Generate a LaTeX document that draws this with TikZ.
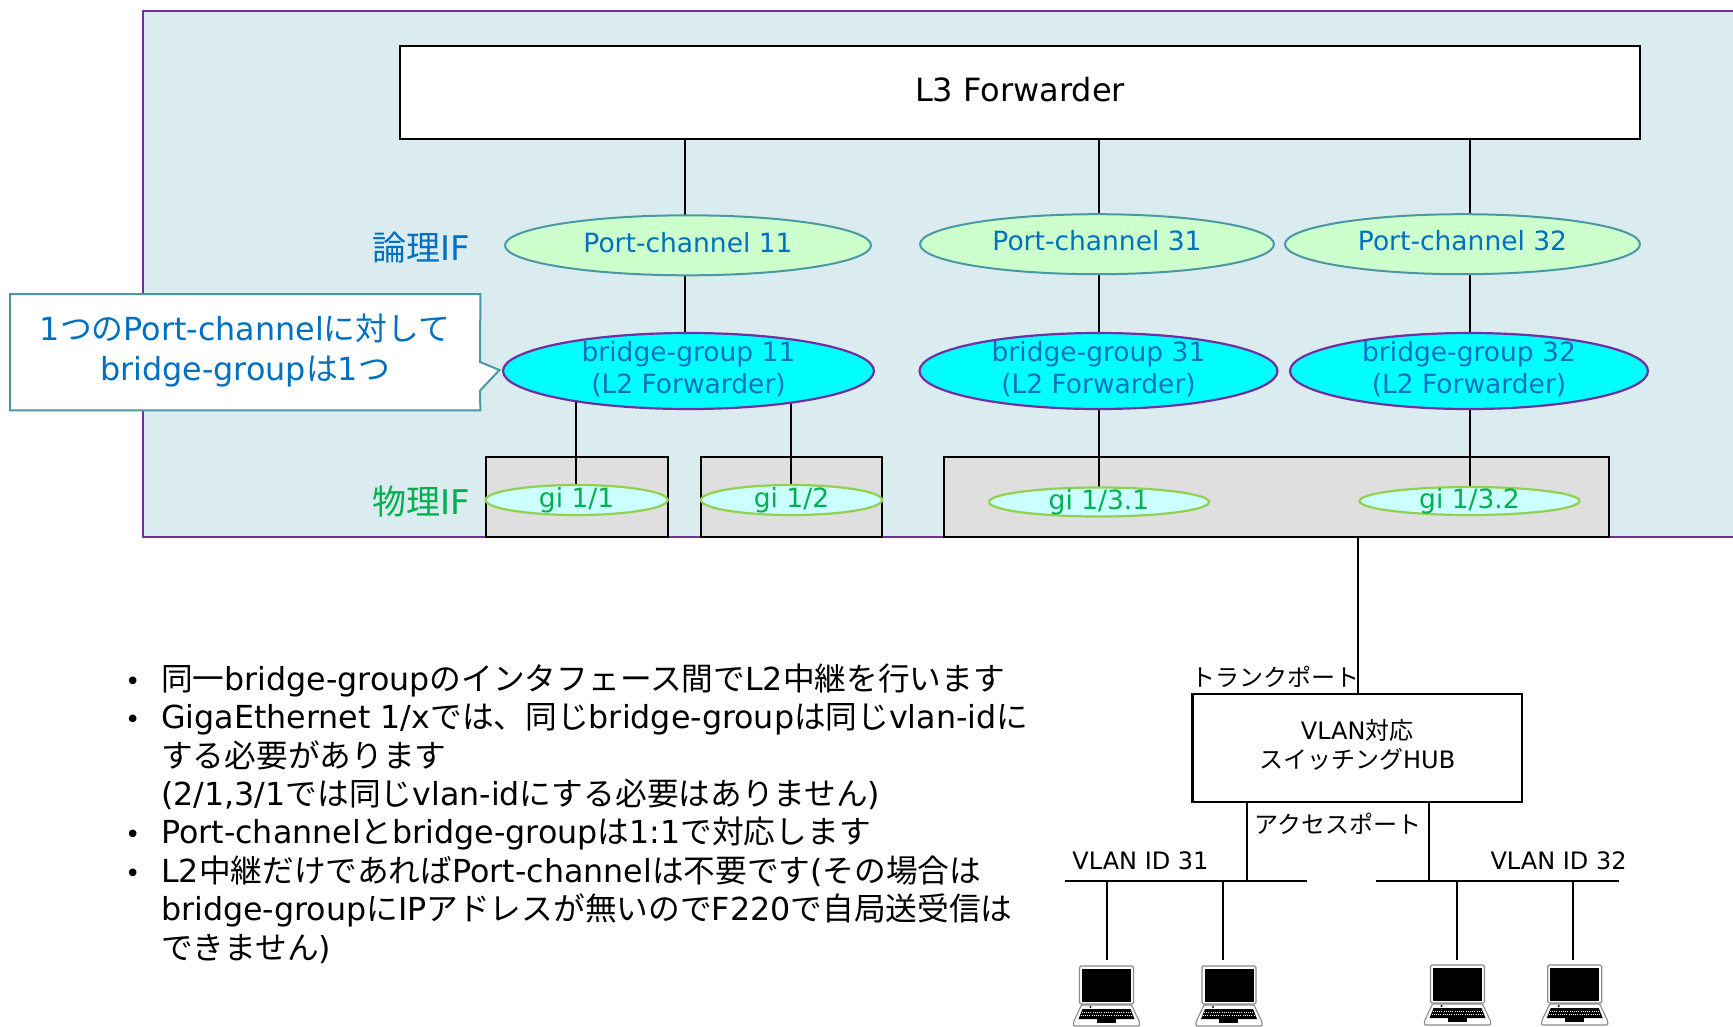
\documentclass[tikz,border=0pt]{standalone}
\usepackage{fontspec}
\setmainfont{DejaVu Sans}
\newfontfamily\jp{Noto Sans CJK JP}
\usetikzlibrary{shapes.geometric,backgrounds}
\pgfdeclarelayer{panelL}\pgfdeclarelayer{boxL}\pgfdeclarelayer{lineL}
\pgfsetlayers{panelL,boxL,lineL,main}
\definecolor{panelfill}{HTML}{DAECEF}
\definecolor{purp}{HTML}{7030A0}
\definecolor{teal1}{HTML}{4A98A4}
\definecolor{blue1}{HTML}{0070C0}
\definecolor{green1}{HTML}{00B050}
\definecolor{lime1}{HTML}{92D050}
\definecolor{pcfill}{HTML}{CCFFCC}
\definecolor{gifill}{HTML}{CCFFFF}
\definecolor{cyan}{HTML}{00FFFF}
\newcommand{\J}[1]{{\jp #1}}
\newcommand{\zbox}[2]{\vbox to 0pt{\vss\hbox to 0pt{\hss\raisebox{#1}{#2}\hss}\vss}}
\newcommand{\zboxr}[2]{\hbox to 0pt{\hss\raisebox{#1}[0pt][0pt]{#2}\hss}}
\newcommand{\fsz}[2]{\fontsize{#1}{#2}\selectfont}
\newcommand{\bl}{\makebox[31pt][l]{\hspace*{-5pt}\raisebox{0pt}{\fsz{26}{26}•}}}
\newcommand{\ind}{\hspace*{31pt}}
\tikzset{
  x=1pt,y=-1pt,
  ell/.style={ellipse,inner sep=0pt,outer sep=0pt},
  pcell/.style={ell,draw=teal1,line width=2pt,fill=pcfill,text=blue1,font=\fsz{26.5}{32}},
  brell/.style={ell,draw=purp,line width=2.2pt,fill=cyan,text=blue1,font=\fsz{26.5}{32}},
  giell/.style={ell,draw=lime1,line width=2.2pt,fill=gifill,text=green1,font=\fsz{26.5}{32}},
  graybox/.style={rectangle,draw=black,line width=2.2pt,fill=gray!25!white,inner sep=0pt,outer sep=0pt},
  whitebox/.style={rectangle,draw=black,line width=2.2pt,fill=white,inner sep=0pt,outer sep=0pt},
  wire/.style={draw=black,line width=2pt},
  lbl/.style={inner sep=0pt,text=black,font=\fsz{24}{27.5}},
  iflabel/.style={inner sep=0pt,font=\fsz{34}{36}},
  laptop/.pic={
    \draw[draw=black!45,fill=white,line width=1.1pt,rounded corners=1.5pt] (-27,0) rectangle (27,38);
    \fill[black] (-24.5,2.5) rectangle (24.5,36);
    \draw[draw=black!45,fill=white,line width=1.1pt,rounded corners=1pt] (-25,39) -- (25,39) -- (33,56) -- (33,60) -- (-33,60) -- (-33,56) -- cycle;
    \fill[black] (-24,43) -- (24,43) -- (28,53) -- (-28,53) -- cycle;
    \fill[black] (-10,53) rectangle (9,56.5);
    \fill[black] (-16,41) circle (1.2);
    \draw[white,line width=.35pt,dash pattern=on 1pt off 1.2pt] (-25,46.5) -- (25,46.5);
    \draw[white,line width=.35pt,dash pattern=on 1pt off 1.2pt] (-26,49.5) -- (26,49.5);
  }
}
\begin{document}
\begin{tikzpicture}
\useasboundingbox (0,0) rectangle (1733,1026);
\begin{pgfonlayer}{panelL}
  \fill[white] (0,0) rectangle (1733,1026);
  \fill[panelfill] (143,11) rectangle (1733,537);
  \draw[purp,line width=2pt] (1733,11) -- (143,11) -- (143,537) -- (1733,537);
\end{pgfonlayer}
\begin{pgfonlayer}{boxL}
  \node[graybox,minimum width=182pt,minimum height=80pt] (box1) at (576.6,497) {};
  \node[graybox,minimum width=181pt,minimum height=80pt] (box2) at (791.5,497) {};
  \node[graybox,minimum width=665pt,minimum height=80pt] (box3) at (1276.5,497) {};
\end{pgfonlayer}
% top box
\node[whitebox,minimum width=1240pt,minimum height=93pt,font=\fsz{32}{36}] (l3) at (1020,92.8) {\zboxr{-8.7pt}{L3 Forwarder}};
% port-channel
\node[pcell,minimum width=366pt,minimum height=60pt] (pc11) at (688,245.3) {\zboxr{-6.7pt}{Port-channel 11}};
\node[pcell,minimum width=354pt,minimum height=60pt] (pc31) at (1097,244.2) {\zboxr{-6.7pt}{Port-channel 31}};
\node[pcell,minimum width=355pt,minimum height=60pt] (pc32) at (1462.5,244.2) {\zboxr{-6.7pt}{Port-channel 32}};
% bridge
\node[brell,minimum width=371pt,minimum height=76pt] (br11) at (688.5,371) {\zbox{0pt}{\begin{tabular}{@{}c@{}}bridge-group 11\\(L2 Forwarder)\end{tabular}}};
\node[brell,minimum width=358pt,minimum height=76pt] (br31) at (1098.5,371) {\zbox{0pt}{\begin{tabular}{@{}c@{}}bridge-group 31\\(L2 Forwarder)\end{tabular}}};
\node[brell,minimum width=358pt,minimum height=76pt] (br32) at (1469,371) {\zbox{0pt}{\begin{tabular}{@{}c@{}}bridge-group 32\\(L2 Forwarder)\end{tabular}}};
% gi
\node[giell,minimum width=182pt,minimum height=30pt] (gi1) at (576.6,500) {\zbox{0pt}{gi 1/1}};
\node[giell,minimum width=181pt,minimum height=30pt] (gi2) at (791.5,500) {\zbox{0pt}{gi 1/2}};
\node[giell,minimum width=220pt,minimum height=29pt] (gi31) at (1099,502) {\zbox{0pt}{gi 1/3.1}};
\node[giell,minimum width=220pt,minimum height=28pt] (gi32) at (1469.5,501) {\zbox{0pt}{gi 1/3.2}};
% IF labels
\node[iflabel,text=blue1] (ronri) at (421.6,247.5) {\J{論理}IF};
\node[iflabel,text=green1] (butsuri) at (421.6,502) {\J{物理}IF};
% callout
\node[inner sep=0pt,minimum width=470pt,minimum height=116pt,anchor=north west,draw=none] (call) at (10,294) {};
\draw[teal1,line width=2pt,fill=white] (call.north west) -- (call.north east) -- (480,362) -- (499.4,370) -- (480,390.7) -- (call.south east) -- (call.south west) -- cycle;
\node[inner sep=0pt,text=blue1,align=center,font=\fsz{31.8}{40}] (calltext) at (245,350.5) {1\J{つの}Port-channel\J{に対して}\\bridge-group\J{は}1\J{つ}};
% body text
\node[inner sep=0pt,anchor=north west,align=left,font=\fsz{31.7}{38.4}] (body) at (130,663.5) {%
\bl\J{同一}bridge-group\J{のインタフェース間で}L2\J{中継を行います}\\
\bl GigaEthernet 1/x\J{では、同じ}bridge-group\J{は同じ}vlan-id\J{に}\\
\ind\J{する必要があります}\\
\ind(2/1,3/1\J{では同じ}vlan-id\J{にする必要はありません})\\
\bl Port-channel\J{と}bridge-group\J{は}1:1\J{で対応します}\\
\bl L2\J{中継だけであれば}Port-channel\J{は不要です}(\J{その場合は}\\
\ind bridge-group\J{に}IP\J{アドレスが無いので}F220\J{で自局送受信は}\\
\ind\J{できません})};
% hub
\node[whitebox,minimum width=329.5pt,minimum height=108.6pt,font=\fsz{24}{27.5},align=center] (hub) at (1357.2,748) {\raisebox{3pt}{\begin{tabular}{@{}c@{}}VLAN\J{対応}\\\J{スイッチング}HUB\end{tabular}}};
\node[lbl] (trunk) at (1275,677) {\J{トランクポート}};
\node[lbl] (access) at (1338.3,824) {\J{アクセスポート}};
\node[lbl] (v31) at (1140.5,861) {VLAN ID 31};
\node[lbl] (v32) at (1558.6,861) {VLAN ID 32};
% buses
\coordinate (b1l) at (1065,880.7);
\coordinate (b1r) at (1307,880.7);
\coordinate (b2l) at (1376.4,880.7);
\coordinate (b2r) at (1618.6,880.7);
\draw[wire] (b1l) -- (b1r);
\draw[wire] (b2l) -- (b2r);
\coordinate (a1) at (1247,0);
\coordinate (a2) at (1428.5,0);
\draw[wire] (a1 |- hub.south) -- (a1 |- b1l);
\draw[wire] (a2 |- hub.south) -- (a2 |- b2l);
% laptops
\pic (lp1) at (1106.5,966) {laptop};
\pic (lp2) at (1229,966) {laptop};
\pic (lp3) at (1457.5,965) {laptop};
\pic (lp4) at (1574.7,965) {laptop};
\coordinate (d1) at (1107,960);
\coordinate (d2) at (1222.8,960);
\coordinate (d3) at (1457,960);
\coordinate (d4) at (1572.6,960);
\draw[wire] (d1 |- b1l) -- (d1);
\draw[wire] (d2 |- b1l) -- (d2);
\draw[wire] (d3 |- b2l) -- (d3);
\draw[wire] (d4 |- b2l) -- (d4);
% connectors
\begin{pgfonlayer}{lineL}
  \coordinate (x1) at (685,0);
  \coordinate (x2) at (1098.6,0);
  \coordinate (x3) at (1470,0);
  \coordinate (x4) at (576,0);
  \coordinate (x5) at (791,0);
  \draw[wire] (x1 |- l3.south) -- (x1 |- pc11.center);
  \draw[wire] (x2 |- l3.south) -- (x2 |- pc31.center);
  \draw[wire] (x3 |- l3.south) -- (x3 |- pc32.center);
  \draw[wire] (x1 |- pc11.center) -- (x1 |- br11.center);
  \draw[wire] (x2 |- pc31.center) -- (x2 |- br31.center);
  \draw[wire] (x3 |- pc32.center) -- (x3 |- br32.center);
  \draw[wire] (x4 |- br11.center) -- (x4 |- gi1.center);
  \draw[wire] (x5 |- br11.center) -- (x5 |- gi2.center);
  \draw[wire] (x2 |- br31.center) -- (x2 |- gi31.center);
  \draw[wire] (x3 |- br32.center) -- (x3 |- gi32.center);
  \coordinate (x6) at (1357.6,0);
  \draw[wire] (x6 |- box3.south) -- (x6 |- hub.north);
\end{pgfonlayer}
\end{tikzpicture}
\end{document}
